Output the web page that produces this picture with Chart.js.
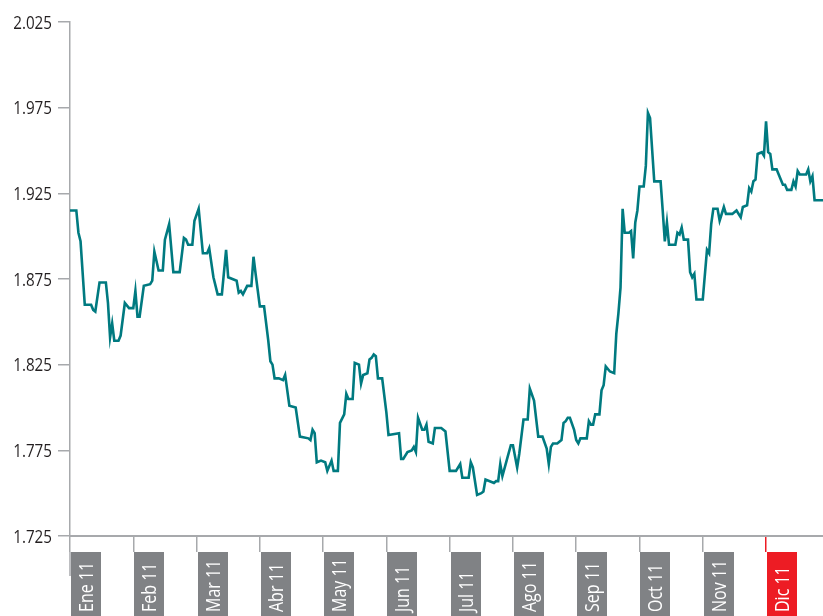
<!DOCTYPE html>
<html lang="es">
<head>
<meta charset="utf-8">
<title>Tipo de cambio 2011</title>
<script src="https://cdn.jsdelivr.net/npm/chart.js@4/dist/chart.umd.min.js"></script>
<style>
  html, body { margin: 0; padding: 0; background: #fff; }
  canvas { display: block; }
</style>
</head>
<body>
<canvas id="grafico" width="823" height="616"></canvas>
<script>
// Meses del eje x (cada uno ocupa 30 posiciones diarias)
const meses = ['Ene 11', 'Feb 11', 'Mar 11', 'Abr 11', 'May 11', 'Jun 11',
               'Jul 11', 'Ago 11', 'Sep 11', 'Oct 11', 'Nov 11', 'Dic 11'];
const diasPorMes = 30;
const ultimoDia = 357;

// Marcas del eje y
const ticksY = [1.725, 1.775, 1.825, 1.875, 1.925, 1.975, 2.025];

// Serie diaria: posición del día y valor
const dias = [
  0, 3, 4, 5, 7, 10, 11, 12, 14, 17, 18, 19, 20, 21, 23, 24, 26, 28, 30, 31,
  32, 33, 35, 38, 39, 40, 42, 44, 45, 47, 49, 52, 54, 55, 56, 58, 59, 61, 63, 65,
  66, 68, 70, 72, 74, 75, 77, 79, 80, 81, 82, 84, 86, 87, 88, 90, 92, 94, 95, 96,
  97, 99, 101, 102, 104, 107, 109, 113, 114, 115, 116, 117, 119, 121, 122, 124, 125, 127, 128, 130,
  131, 132, 134, 135, 137, 138, 139, 141, 142, 143, 144, 145, 146, 148, 150, 151, 156, 157, 158, 160,
  162, 163, 164, 165, 167, 168, 169, 170, 172, 173, 176, 178, 180, 183, 185, 186, 189, 190, 191, 193,
  195, 196, 197, 199, 201, 202, 203, 204, 205, 207, 209, 210, 212, 213, 215, 217, 218, 220, 222, 224,
  226, 227, 228, 229, 231, 233, 234, 235, 236, 237, 239, 240, 241, 242, 245, 246, 247, 248, 249, 251,
  252, 253, 254, 256, 258, 259, 260, 261, 262, 263, 265, 266, 267, 268, 269, 270, 272, 273, 274, 275,
  277, 280, 281, 282, 283, 284, 287, 288, 289, 290, 291, 293, 294, 295, 296, 297, 300, 302, 303, 304,
  305, 307, 308, 310, 311, 314, 316, 318, 319, 321, 322, 323, 324, 325, 326, 328, 329, 330, 331, 332,
  333, 335, 336, 338, 339, 340, 342, 343, 344, 345, 346, 349, 350, 351, 352, 353, 357
];
const tipoCambio = [
  1.915, 1.915, 1.902, 1.897, 1.860, 1.860, 1.857, 1.856, 1.873, 1.873, 1.861, 1.841, 1.849, 1.839, 1.839, 1.842, 1.861, 1.858, 1.858, 1.868,
  1.853, 1.853, 1.871, 1.872, 1.874, 1.891, 1.880, 1.880, 1.898, 1.907, 1.879, 1.879, 1.899, 1.898, 1.895, 1.895, 1.909, 1.916, 1.890, 1.890,
  1.893, 1.876, 1.866, 1.866, 1.892, 1.876, 1.875, 1.874, 1.867, 1.868, 1.866, 1.871, 1.871, 1.888, 1.878, 1.859, 1.859, 1.839, 1.827, 1.825,
  1.817, 1.817, 1.816, 1.819, 1.801, 1.800, 1.783, 1.782, 1.781, 1.787, 1.785, 1.768, 1.769, 1.768, 1.763, 1.769, 1.763, 1.763, 1.791, 1.796,
  1.808, 1.805, 1.805, 1.826, 1.825, 1.814, 1.819, 1.820, 1.828, 1.829, 1.831, 1.830, 1.817, 1.817, 1.797, 1.784, 1.785, 1.770, 1.770, 1.774,
  1.775, 1.777, 1.774, 1.794, 1.787, 1.787, 1.790, 1.780, 1.779, 1.788, 1.788, 1.786, 1.763, 1.763, 1.767, 1.759, 1.759, 1.768, 1.765, 1.749,
  1.750, 1.751, 1.758, 1.757, 1.756, 1.757, 1.757, 1.767, 1.760, 1.769, 1.778, 1.778, 1.765, 1.773, 1.793, 1.793, 1.811, 1.804, 1.783, 1.783,
  1.776, 1.767, 1.777, 1.779, 1.779, 1.781, 1.791, 1.792, 1.794, 1.794, 1.787, 1.781, 1.779, 1.782, 1.782, 1.792, 1.790, 1.790, 1.796, 1.796,
  1.810, 1.813, 1.824, 1.821, 1.820, 1.843, 1.855, 1.870, 1.916, 1.902, 1.902, 1.903, 1.887, 1.908, 1.915, 1.929, 1.929, 1.941, 1.972, 1.969,
  1.932, 1.932, 1.915, 1.897, 1.908, 1.895, 1.895, 1.902, 1.901, 1.905, 1.898, 1.898, 1.879, 1.876, 1.878, 1.863, 1.863, 1.892, 1.890, 1.907,
  1.916, 1.916, 1.909, 1.917, 1.913, 1.913, 1.915, 1.911, 1.917, 1.918, 1.928, 1.926, 1.932, 1.933, 1.948, 1.949, 1.947, 1.967, 1.949, 1.948,
  1.939, 1.939, 1.936, 1.930, 1.930, 1.927, 1.927, 1.932, 1.929, 1.938, 1.936, 1.936, 1.939, 1.932, 1.935, 1.921, 1.921
];

const GRIS_EJE = '#a7a9ac';
const GRIS_CAJA = '#808285';
const ROJO = '#ed1c24';
const FUENTE = '"Open Sans", "Noto Sans", sans-serif';
const ANGOSTO = 0.8; // compresión horizontal del texto (letra condensada)

// Etiquetas del eje y, dibujadas con letra condensada
const etiquetasY = {
  id: 'etiquetasY',
  afterDraw(chart) {
    const { ctx, scales: { y }, chartArea } = chart;
    ctx.save();
    ctx.font = '19px ' + FUENTE;
    ctx.fillStyle = '#231f20';
    ctx.textAlign = 'right';
    ctx.textBaseline = 'alphabetic';
    ticksY.forEach((v) => {
      ctx.save();
      ctx.translate(chartArea.left - 18, y.getPixelForValue(v) + 6.8);
      ctx.scale(ANGOSTO, 1);
      ctx.fillText(v.toFixed(3), 0, 0);
      ctx.restore();
    });
    ctx.restore();
  }
};

// Cajas grises con el nombre del mes bajo cada marca del eje x
const cajasMes = {
  id: 'cajasMes',
  afterDraw(chart) {
    const { ctx, scales: { x } } = chart;
    const top = x.bottom;
    ctx.save();
    // prolongación del eje vertical junto a la primera caja
    ctx.strokeStyle = GRIS_EJE;
    ctx.lineWidth = 1.5;
    ctx.beginPath();
    ctx.moveTo(x.left, top);
    ctx.lineTo(x.left, top + 24);
    ctx.stroke();

    ctx.font = '20px ' + FUENTE;
    ctx.textBaseline = 'alphabetic';
    ctx.textAlign = 'left';
    meses.forEach((mes, i) => {
      const px = Math.round(x.getPixelForValue(i * diasPorMes));
      ctx.fillStyle = i === meses.length - 1 ? ROJO : GRIS_CAJA;
      ctx.fillRect(px + 1, top, 30, chart.height - top);
      ctx.save();
      ctx.translate(px + 16 + 7, chart.height - 4);
      ctx.rotate(-Math.PI / 2);
      ctx.scale(ANGOSTO, 1);
      ctx.fillStyle = '#ffffff';
      ctx.fillText(mes, 0, 0);
      ctx.restore();
    });
    ctx.restore();
  }
};

new Chart(document.getElementById('grafico'), {
  type: 'line',
  data: {
    datasets: [{
      data: dias.map((d, i) => ({ x: d, y: tipoCambio[i] })),
      borderColor: '#007a80',
      borderWidth: 2.6,
      pointRadius: 0,
      tension: 0,
      fill: false
    }]
  },
  options: {
    responsive: false,
    devicePixelRatio: 1,
    animation: false,
    layout: { padding: { top: 22, left: 12, right: 0, bottom: 64 } },
    plugins: { legend: { display: false }, tooltip: { enabled: false } },
    scales: {
      x: {
        type: 'linear',
        min: 0,
        max: ultimoDia,
        border: { color: GRIS_EJE, width: 2 },
        grid: {
          drawOnChartArea: false,
          drawTicks: true,
          tickLength: 16,
          lineWidth: 1.5,
          tickColor: (c) => c.index === meses.length - 1 ? ROJO : GRIS_EJE
        },
        ticks: { display: false },
        afterBuildTicks: (s) => { s.ticks = meses.map((_, i) => ({ value: i * diasPorMes })); }
      },
      y: {
        min: ticksY[0],
        max: ticksY[ticksY.length - 1],
        border: { color: GRIS_EJE, width: 1.5 },
        grid: { drawOnChartArea: false, tickLength: 12, color: GRIS_EJE, lineWidth: 1.5 },
        ticks: { display: false },
        afterBuildTicks: (s) => { s.ticks = ticksY.map((v) => ({ value: v })); },
        afterFit: (s) => { s.width = 58; }
      }
    }
  },
  plugins: [etiquetasY, cajasMes]
});
</script>
</body>
</html>
